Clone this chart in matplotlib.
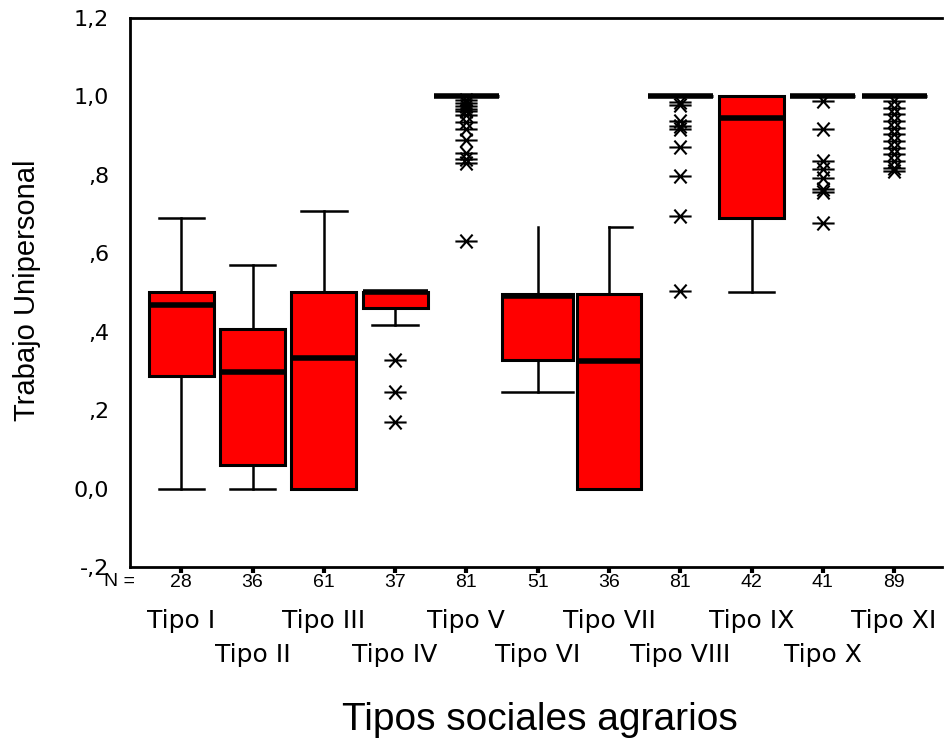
import matplotlib
matplotlib.use("Agg")
import matplotlib.pyplot as plt
import matplotlib.transforms as mtransforms
from matplotlib.path import Path

plt.rcParams['font.family'] = ['Liberation Sans', 'DejaVu Sans']

# ---------------- data ----------------
categories = ["Tipo I", "Tipo II", "Tipo III", "Tipo IV", "Tipo V", "Tipo VI",
              "Tipo VII", "Tipo VIII", "Tipo IX", "Tipo X", "Tipo XI"]
n_counts = [28, 36, 61, 37, 81, 51, 36, 81, 42, 41, 89]
whisker_low = [0.0, 0.0, 0.0, 0.418, 1.0, 0.247, 0.0, 1.0, 0.50, 1.0, 1.0]
q1 =          [0.286, 0.061, 0.0, 0.46, 1.0, 0.327, 0.0, 1.0, 0.691, 1.0, 1.0]
median =      [0.469, 0.298, 0.332, 0.50, 1.0, 0.49, 0.324, 1.0, 0.946, 1.0, 1.0]
q3 =          [0.50, 0.406, 0.50, 0.50, 1.0, 0.495, 0.497, 1.0, 1.0, 1.0, 1.0]
whisker_high = [0.691, 0.571, 0.709, 0.50, 1.0, 0.668, 0.668, 1.0, 1.0, 1.0, 1.0]
outliers = [
    [],
    [],
    [],
    [0.329, 0.247, 0.169],
    [0.99, 0.983, 0.976, 0.969, 0.962, 0.952, 0.935, 0.918, 0.89, 0.855, 0.84, 0.83, 0.63],
    [],
    [],
    [0.985, 0.977, 0.937, 0.924, 0.916, 0.870, 0.797, 0.694, 0.503],
    [],
    [0.988, 0.916, 0.835, 0.814, 0.793, 0.763, 0.755, 0.676],
    [0.988, 0.971, 0.954, 0.937, 0.920, 0.903, 0.886, 0.869, 0.852, 0.835, 0.818, 0.810],
]
y_ticks = [-0.2, 0.0, 0.2, 0.4, 0.6, 0.8, 1.0, 1.2]
y_tick_labels = ["-,2", "0,0", ",2", ",4", ",6", ",8", "1,0", "1,2"]
x_title = "Tipos sociales agrarios"
y_title = "Trabajo Unipersonal"

# star marker: X with a horizontal bar
star = Path([(-1, 0), (1, 0), (-0.55, -0.62), (0.55, 0.62), (-0.55, 0.62), (0.55, -0.62)],
            [Path.MOVETO, Path.LINETO, Path.MOVETO, Path.LINETO, Path.MOVETO, Path.LINETO])

# ---------------- figure ----------------
fig = plt.figure(figsize=(9.44, 7.38), dpi=100)
ax = fig.add_axes([0.1377, 0.2317, 0.86, 0.744])

positions = list(range(1, len(categories) + 1))
stats = []
for i in range(len(categories)):
    stats.append(dict(label=categories[i], whislo=whisker_low[i], q1=q1[i],
                      med=median[i], q3=q3[i], whishi=whisker_high[i],
                      fliers=outliers[i]))

widths = [0.91] * len(categories)
widths[5] = 1.0

res = ax.bxp(stats, positions=positions, widths=widths, patch_artist=True,
             showfliers=True, capwidths=[w * 0.7 for w in widths],
             boxprops=dict(facecolor="#ff0000", edgecolor="black", linewidth=2.2),
             medianprops=dict(color="black", linewidth=4.0, solid_capstyle="butt"),
             whiskerprops=dict(color="black", linewidth=1.8),
             capprops=dict(color="black", linewidth=1.8),
             flierprops=dict(marker=star, markersize=16, markeredgecolor="black",
                             markerfacecolor="none", markeredgewidth=1.5,
                             linestyle="none"))
# quirks of the original rendering (Tipo VI / Tipo VII caps)
caps = res['caps']
caps[2 * 5 + 1].set_visible(False)
lo = caps[2 * 5]
lo.set_xdata([positions[5] - widths[5] / 2, positions[5] + widths[5] / 2])
hi7 = caps[2 * 6 + 1]
hi7.set_xdata([positions[6], positions[6] + widths[6] * 0.35])
for b in res['boxes']:
    b.set_zorder(3)
for m in res['medians']:
    m.set_zorder(4)

ax.set_xlim(0.28, 11.67)
ax.set_ylim(-0.2, 1.2)
ax.set_yticks(y_ticks)
ax.set_yticklabels(y_tick_labels, fontsize=16, family='DejaVu Sans')
ax.tick_params(axis='y', length=0, pad=15)

ax.set_xticks(positions)
ax.set_xticklabels([str(n) for n in n_counts], fontsize=14)
ax.tick_params(axis='x', length=4, width=3, pad=1, direction='out')

for s in ['left', 'top', 'bottom', 'right']:
    ax.spines[s].set_linewidth(2)
ax.spines['right'].set_visible(False)

fig.text(104 / 944, 1 - 582 / 738, "N =", fontsize=14, ha='left', va='center')

trans = mtransforms.blended_transform_factory(ax.transData, ax.transAxes)
for i, cat in enumerate(categories):
    y = -0.098 if i % 2 == 0 else -0.16
    ax.text(positions[i], y, cat, transform=trans, fontsize=18, ha='center', va='center',
            family='DejaVu Sans')

fig.text(540 / 944, 1 - 720 / 738, x_title, fontsize=28, ha='center', va='center')
fig.text(27 / 944, 1 - 290 / 738, y_title, fontsize=21, rotation=90, ha='center', va='center')

fig.savefig("out.png", dpi=100, facecolor="white")
